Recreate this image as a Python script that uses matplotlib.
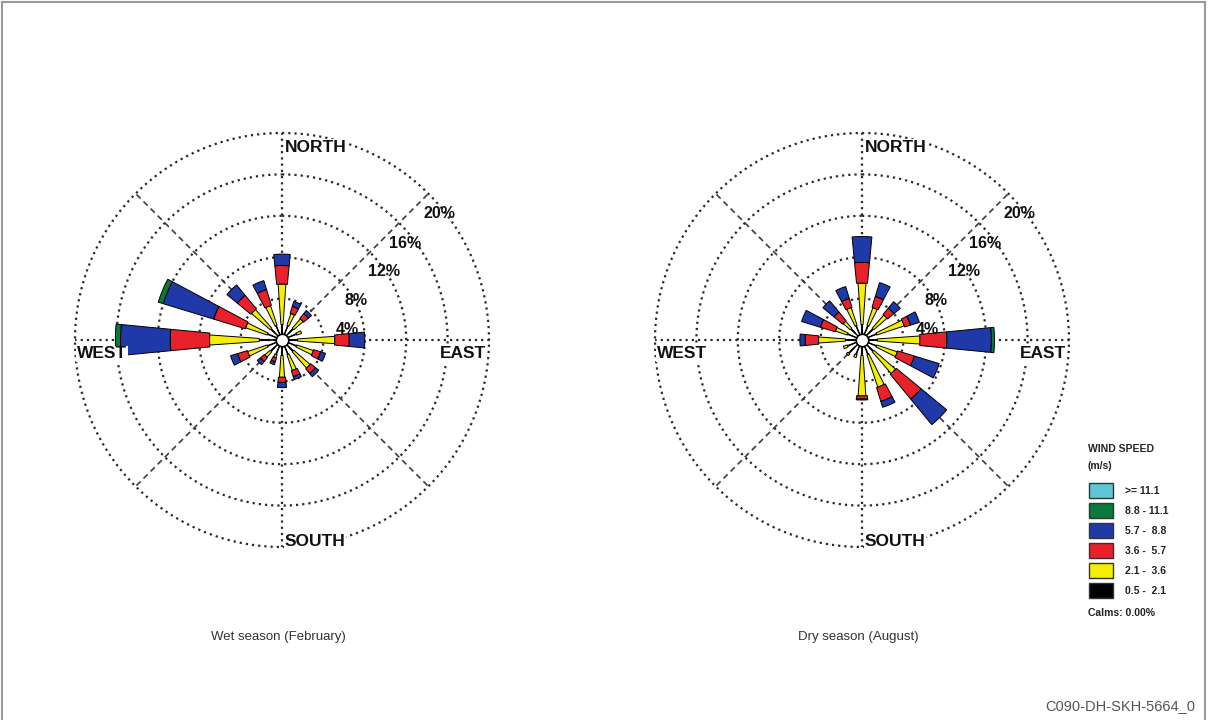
import numpy as np
import matplotlib
matplotlib.use("Agg")
import matplotlib.pyplot as plt
from matplotlib.patches import Rectangle
from matplotlib.lines import Line2D

plt.rcParams['font.family'] = ['Liberation Sans', 'DejaVu Sans']

W, H = 1208, 720

# 16 compass sectors, clockwise from north
directions = ['N', 'NNE', 'NE', 'ENE', 'E', 'ESE', 'SE', 'SSE',
              'S', 'SSW', 'SW', 'WSW', 'W', 'WNW', 'NW', 'NNW']
dir_deg = np.arange(16) * 22.5

speed_labels = ['0.5 -  2.1', '2.1 -  3.6', '3.6 -  5.7', '5.7 -  8.8', '8.8 - 11.1', '>= 11.1']
speed_colors = ['#000000', '#f4ee00', '#e8212b', '#1f3aa8', '#0a7a3c', '#5fc6d6']
calms = '0.00%'

# frequency (%) per speed class, one value per direction
wet_05_21 = [1.5, 1.5, 1.5, 1.5, 1.5, 1.5, 1.5, 1.5, 1.5, 1.5, 1.5, 1.5, 2.2, 1.5, 1.5, 1.5]
wet_21_36 = [3.9, 1.2, 1.2, 0.5, 3.6, 1.7, 2.1, 1.6, 2.1, 0.3, 0.7, 2.0, 4.8, 2.2, 2.4, 2.0]
wet_36_57 = [1.8, 0.7, 0.6, 0.0, 1.4, 0.7, 0.6, 0.6, 0.5, 0.4, 0.5, 1.0, 3.8, 3.2, 1.7, 1.6]
wet_57_88 = [1.1, 0.5, 0.4, 0.0, 1.5, 0.5, 0.4, 0.3, 0.5, 0.3, 0.4, 0.7, 4.8, 5.1, 1.3, 0.9]
wet_88_111 = [0, 0, 0, 0, 0, 0, 0, 0, 0, 0, 0, 0, 0.5, 0.5, 0, 0]
wet_111 = [0] * 16

dry_05_21 = [1.5, 1.5, 1.5, 1.5, 1.5, 1.5, 1.5, 1.5, 1.5, 1.5, 1.8, 1.5, 1.6, 1.5, 1.5, 1.5]
dry_21_36 = [4.0, 1.8, 1.7, 2.8, 4.1, 2.1, 2.8, 3.3, 3.9, 0.3, 0.2, 0.4, 2.6, 1.2, 0.9, 1.8]
dry_36_57 = [2.0, 1.1, 0.8, 0.6, 2.6, 1.7, 3.1, 1.4, 0.3, 0.0, 0.0, 0.0, 1.3, 1.5, 1.1, 0.9]
dry_57_88 = [2.5, 1.4, 0.8, 0.9, 4.3, 2.5, 3.2, 0.6, 0.1, 0.0, 0.0, 0.0, 0.5, 1.9, 1.4, 1.2]
dry_88_111 = [0, 0, 0, 0, 0.3, 0, 0, 0, 0, 0, 0, 0, 0, 0, 0, 0]
dry_111 = [0] * 16

rings = [4, 8, 12, 16, 20]


def fx(x):
    return x / W


def fy(y):
    return 1 - y / H


def rose(cx, cy, classes, caption):
    rad = 207
    ax = fig.add_axes([fx(cx - rad), fy(cy + rad), 2 * rad / W, 2 * rad / H],
                      projection='polar')
    ax.set_theta_zero_location('N')
    ax.set_theta_direction(-1)
    ax.set_ylim(0, 20)
    ax.grid(False)
    ax.set_xticks([])
    ax.set_yticks([])
    ax.spines['polar'].set_visible(False)
    ax.patch.set_alpha(0)

    t = np.linspace(0, 2 * np.pi, 400)
    for r in rings:
        ax.plot(t, np.full_like(t, r), color='#2a2a2a', lw=1.6,
                ls=(0, (1, 1.8)), zorder=1, clip_on=False)
    for a in range(0, 360, 45):
        th = np.deg2rad(a)
        if a % 90 == 0:
            ax.plot([th, th], [0, 20], color='#2a2a2a', lw=1.6, ls=(0, (1, 1.8)),
                    zorder=1, clip_on=False)
        else:
            ax.plot([th, th], [0, 20], color='#3a3a3a', lw=1.2, ls=(0, (3.5, 2.5)),
                    zorder=1, clip_on=False)

    widths = [3, 8, 11, 11, 11, 11]
    theta = np.deg2rad(dir_deg)
    bottom = np.zeros(16)
    for k, vals in enumerate(classes):
        vals = np.asarray(vals, dtype=float)
        m = vals > 0
        ax.bar(theta[m], vals[m], width=np.deg2rad(widths[k]), bottom=bottom[m],
               color=speed_colors[k], edgecolor='black', linewidth=0.7, zorder=3)
        bottom += vals
    ax.plot([0], [0], 'o', ms=9, mfc='white', mec='black', mew=1.2, zorder=6)

    bold = dict(fontsize=12.5, fontweight='bold', color='#111111')
    bg = dict(fc='white', ec='none', pad=0.5)
    fig.text(fx(cx + 3), fy(cy - 193), 'NORTH', ha='left', va='center', bbox=bg, **bold)
    fig.text(fx(cx + 3), fy(cy + 201), 'SOUTH', ha='left', va='center', bbox=bg, **bold)
    fig.text(fx(cx - 205), fy(cy + 14), 'WEST', ha='left', va='center', bbox=bg, **bold)
    fig.text(fx(cx + 204), fy(cy + 14), 'EAST', ha='right', va='center', bbox=bg, **bold)

    pct_pos = [(65, -10), (74, -40), (102, -68), (123, -97), (157, -127)]
    for r, (dx, dy) in zip(rings, pct_pos):
        fig.text(fx(cx + dx), fy(cy + dy), f'{r}%', ha='center', va='center',
                 fontsize=11.5, fontweight='bold', color='#111111', zorder=5)

    fig.text(fx(cx - 4), fy(637), caption, ha='center', va='center',
             fontsize=9.5, color='#333333')
    return ax


fig = plt.figure(figsize=(W / 100, H / 100), dpi=100)

rose(282, 340, [wet_05_21, wet_21_36, wet_36_57, wet_57_88, wet_88_111, wet_111],
     'Wet season (February)')
rose(862, 340, [dry_05_21, dry_21_36, dry_36_57, dry_57_88, dry_88_111, dry_111],
     'Dry season (August)')

# legend
fig.text(fx(1088), fy(449), 'WIND SPEED', fontsize=7.5, fontweight='bold',
         ha='left', va='center', color='#222222')
fig.text(fx(1088), fy(466), '(m/s)', fontsize=7.5, fontweight='bold',
         ha='left', va='center', color='#222222')
for i, k in enumerate(range(5, -1, -1)):
    y = 483 + i * 20
    fig.patches.append(Rectangle((fx(1089), fy(y + 15)), 24 / W, 15 / H,
                                 transform=fig.transFigure, fc=speed_colors[k],
                                 ec='#333333', lw=1.0))
    fig.text(fx(1125), fy(y + 8), speed_labels[k], fontsize=7.5, fontweight='bold',
             ha='left', va='center', color='#222222')
fig.text(fx(1088), fy(613), 'Calms: ' + calms, fontsize=7.5, fontweight='bold',
         ha='left', va='center', color='#222222')

fig.text(fx(1045), fy(706), 'C090-DH-SKH-5664_0', fontsize=10.5, color='#555555',
         ha='left', va='center')

# frame
for xs, ys in [([2, 2], [2, 720]), ([2, 1205], [2, 2]), ([1205, 1205], [2, 720])]:
    fig.add_artist(Line2D([fx(x) for x in xs], [fy(y) for y in ys], color='#999999',
                          lw=1.5, transform=fig.transFigure))

fig.savefig('out.png', dpi=100)
